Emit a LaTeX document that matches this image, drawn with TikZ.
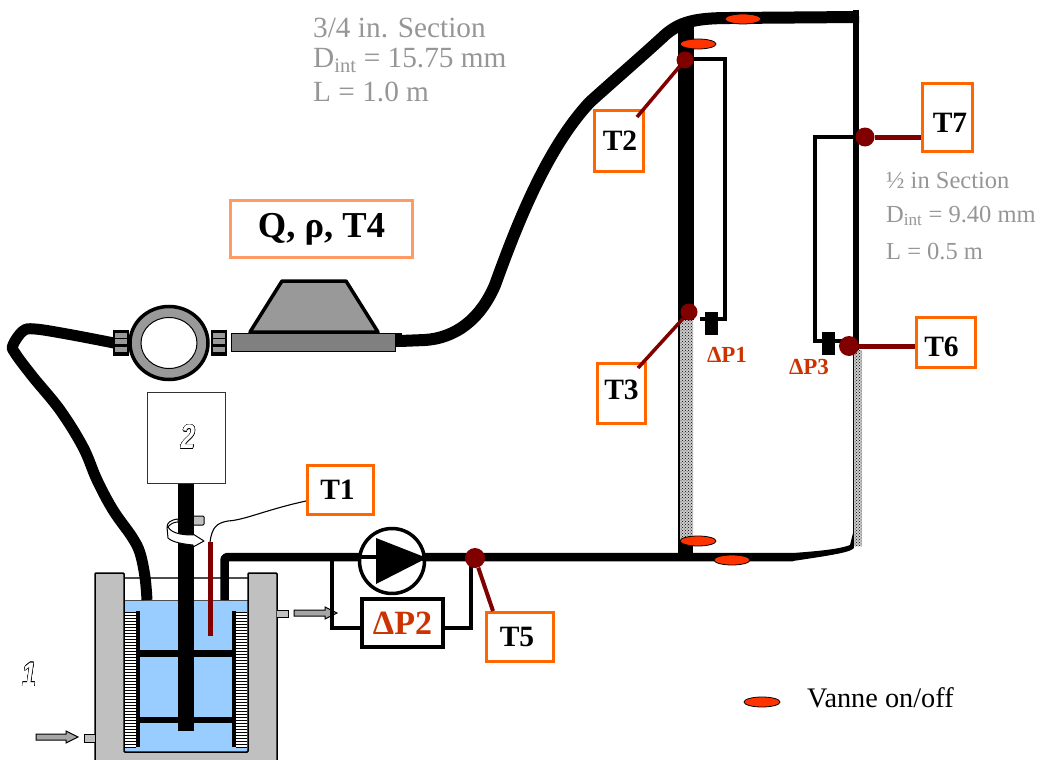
\documentclass[tikz,border=0pt]{standalone}
\usepackage{fontspec}
\usepackage{contour}
\setmainfont{Liberation Serif}
\newfontfamily\numfont{Liberation Sans}
\contourlength{0.5pt}
\usetikzlibrary{shapes.geometric,patterns,calc}
\definecolor{tagorange}{HTML}{FF6600}
\definecolor{tagpale}{HTML}{FF9966}
\definecolor{sensorred}{HTML}{800000}
\definecolor{dpred}{HTML}{CC3300}
\definecolor{valvered}{HTML}{FF3300}
\definecolor{waterblue}{HTML}{99CCFF}
\definecolor{jacketgrey}{HTML}{C0C0C0}
\definecolor{notegrey}{HTML}{969696}
\tikzset{
  tag/.style={draw=tagorange,line width=3pt,fill=white,inner sep=0pt,font=\fontsize{29.5}{31}\selectfont\bfseries},
  dot/.style={circle,fill=sensorred,inner sep=0pt},
  valve/.style={ellipse,draw=black,line width=0.8pt,fill=valvered,minimum width=36pt,minimum height=10pt,inner sep=0pt},
  note/.style={text=notegrey,anchor=west,inner sep=0pt},
  dpbox/.style={fill=black,inner sep=0pt,minimum width=13pt,minimum height=23pt},
  dplabel/.style={text=dpred,font=\fontsize{23}{25}\selectfont\bfseries},
  pipe/.style={line width=11pt,line join=round},
  impulse/.style={line width=3.5pt,line join=miter},
  lead/.style={line width=3.5pt,draw=sensorred},
  porous/.style={pattern=crosshatch dots,pattern color=black},
  greyarrow/.style={draw=black,line width=1pt,fill=gray!70},
  numeral/.style={font=\numfont\bfseries\itshape\fontsize{34}{35}\selectfont,xscale=0.75}
}
\begin{document}
\begin{tikzpicture}[x=1pt,y=-1pt]
\useasboundingbox (0,0) rectangle (1037,760);
% tank
\fill[waterblue] (124,600) rectangle (248,752);
\draw[black!70,line width=1.2pt] (124,578) -- (248,578);
\draw[black!70,line width=1pt] (124,600) -- (248,600);
\draw[line width=1.5pt,fill=jacketgrey,rounded corners=1pt] (95,760) -- (95,573) -- (124,573) -- (124,752) -- (248,752) -- (248,573) -- (277,573) -- (277,760);
\fill[white] (125,612) rectangle (136,747);
\fill[white] (236,612) rectangle (247,747);
\foreach \yy in {612,615,...,747}{
  \draw[line width=0.9pt] (125,\yy) -- (136,\yy);
  \draw[line width=0.9pt] (236,\yy) -- (247,\yy);
}
\fill (136,611) rectangle (140,747);
\fill (232,611) rectangle (236,747);
\fill (136,650) rectangle (236,657);
\fill (136,717) rectangle (236,723);
% tab and shaft
\draw[line width=1pt,fill=jacketgrey,rounded corners=1pt] (190,516) rectangle (204,525);
\fill (178,483) rectangle (194,731);
\draw[line width=1pt,fill=white,line join=round] (178,519) .. controls (170,520) and (167,523) .. (167,527) -- (168,538) .. controls (172,542) and (182,544) .. (193,545) -- (193,547) -- (204,541) -- (193,534) -- (193,535) .. controls (184,535) and (172,534) .. (168,527) .. controls (170,524) and (174,522) .. (178,522) -- cycle;
\node[draw=black!80,line width=1pt,fill=white,minimum width=78pt,minimum height=91pt,inner sep=0pt] (motor) at (186,437.5) {};
\node[numeral] (motornum) at (188,437) {\contour{black}{\textcolor{white}{2}}};
\node[numeral] (tanknum) at (29,675) {\contour{black}{\textcolor{white}{1}}};
% tabs and arrows
\draw[line width=1pt,fill=jacketgrey] (277,610) -- (288,610) -- (288,617) -- (277,617);
\draw[line width=1pt,fill=jacketgrey] (95,734) -- (84,734) -- (84,742) -- (95,742);
\draw[greyarrow] (294,610) -- (325,610) -- (325,607) -- (337,613) -- (325,619) -- (325,616) -- (294,616) -- cycle;
\draw[greyarrow] (36,734) -- (66,734) -- (66,731) -- (78,737) -- (66,743) -- (66,740) -- (36,740) -- cycle;
% return pipe to the meter
\draw[pipe,line cap=butt] plot[smooth,tension=0.6] coordinates {(147,600) (145,577) (140,553) (132,537) (113,510) (97,480) (83,447) (60,410) (33,377) (15,353) (13,345) (23,331) (35,329) (67,334) (114,343)};
% meter ring
\node[draw,line width=3.5pt,fill=gray!80,ellipse,minimum width=78pt,minimum height=73pt,inner sep=0pt] (ring) at (169,343) {};
\node[draw,line width=1pt,fill=white,ellipse,minimum width=56pt,minimum height=51pt,inner sep=0pt] (ringhole) at (169,343) {};
\foreach \xa/\xb in {113/129,211/227}{
  \fill (\xa,330) rectangle (\xb,356);
  \foreach \ya in {333,339,347}
    \fill[gray!80] (\xa+2,\ya) rectangle (\xb-2,\ya+5);
}
% flowmeter
\draw[line width=1pt,fill=black!50] (231,333) rectangle (395,351);
\draw[line width=3.5pt,fill=black!40,line join=round] (250,332) -- (282,281) -- (346,281) -- (378,332) -- cycle;
\fill (395,333) rectangle (402,347);
\node[draw=tagpale,line width=3pt,fill=white,inner sep=0pt,minimum width=182pt,minimum height=57pt,font=\fontsize{36.5}{38}\selectfont\bfseries] (flowtag) at (321.5,229) {Q, ρ, T4};
% upper pipe
\draw[pipe,line width=12pt,line cap=butt] (400,341) -- (425,340) .. controls (455,338) and (480,320) .. (495,285) .. controls (515,230) and (545,150) .. (590,102) .. controls (620,75) and (640,58) .. (665,35) .. controls (680,22) and (695,18) .. (730,18) -- (859,17);
\fill (853,10) rectangle (859,350);
% risers
\fill (678,25) rectangle (694,320);
\path[fill=black!20] (680,320) rectangle (693,541);
\path[fill=black!20] (854,350) rectangle (862,546);
\path[porous] (680,320) rectangle (693,541);
\path[porous] (854,350) rectangle (862,546);
\draw[line width=2pt] (679,320) -- (679,541);
\draw[line width=1.5pt] (853.5,350) -- (853.5,545);
\fill (678,541) rectangle (693,557);
% lower pipe
\draw[line width=8.5pt,line join=round,rounded corners=3pt] (224.5,600) -- (224.5,557) -- (793,557);
\fill (793,553) .. controls (820,551) and (840,549) .. (850,545) -- (853,533) -- (854,548) .. controls (850,552) and (840,554) .. (793,561) -- cycle;
% bypass
\draw[line width=4.5pt] (332,557) -- (332,628) -- (361,628);
\draw[line width=4.5pt] (444,628) -- (471,628) -- (471,558);
\node[draw,line width=3.5pt,fill=white,inner sep=0pt,minimum width=81pt,minimum height=48pt,text=dpred,font=\fontsize{34}{36}\selectfont\bfseries] (dptwo) at (402.5,623) {ΔP2};
% pump
\node[draw,line width=3.5pt,fill=white,circle,minimum size=65pt,inner sep=0pt] (pump) at (392,561) {};
\draw[line width=4pt] (pump.west |- 0,557) -- (378,557);
\fill (376,538) -- (376,584) -- (427,558) -- cycle;
\draw[line width=8.5pt] (422,557) -- (471,557);
% impulse lines
\draw[impulse] (690,59) -- (725,59) -- (725,319) -- (700,319);
\draw[impulse] (856,137) -- (815,137) -- (815,341) -- (850,341);
\node[dpbox] (dpone) at (711.5,323.5) {};
\node[dpbox] (dpthree) at (828.5,343.5) {};
\node[dplabel] (dponetext) at (727,355) {ΔP1};
\node[dplabel] (dpthreetext) at (809,367) {ΔP3};
% valves
\node[valve] (vone) at (743,19) {};
\node[valve] (vtwo) at (698,44) {};
\node[valve] (vthree) at (698,541) {};
\node[valve] (vfour) at (732,560) {};
\node[valve] (vlegend) at (762,702) {};
\node[anchor=west,inner sep=0pt,font=\fontsize{28.3}{30}\selectfont] (legend) at (807,698) {Vanne on/off};
% probe
\fill[sensorred] (208,542) rectangle (213,636);
% temperature tags
\node[tag,minimum width=66pt,minimum height=49pt] (Tone) at (340.5,490) {T1\hspace*{6pt}};
\node[tag,minimum width=49pt,minimum height=61pt] (Ttwo) at (619,141) {\hspace*{2pt}T2};
\node[tag,minimum width=48pt,minimum height=60pt,text height=19.5pt,text depth=7pt] (Tthree) at (621.5,393.5) {T3};
\node[tag,minimum width=67pt,minimum height=49pt] (Tfive) at (520,637) {T5\hspace*{6pt}};
\node[tag,minimum width=59pt,minimum height=50pt,text height=29pt] (Tsix) at (946,342.5) {T6\hspace*{9pt}};
\node[tag,minimum width=50pt,minimum height=68pt,text height=29.5pt] (Tseven) at (947.5,117.5) {\hspace*{5pt}T7};
\node[dot,minimum size=17pt] (dtwo) at (685,60) {};
\node[dot,minimum size=17pt] (dthree) at (689,312) {};
\node[dot,minimum size=20pt] (dfive) at (475,558) {};
\node[dot,minimum size=20pt] (dsix) at (849,346) {};
\node[dot,minimum size=19pt] (dseven) at (865,137) {};
\coordinate (ltwo) at (637,117);
\coordinate (lthree) at (638,368);
\coordinate (lfive) at (493,611);
\draw[lead] (dtwo) -- (ltwo);
\draw[lead] (dthree) -- (lthree);
\draw[lead,line width=4pt] (dfive) -- (lfive);
\draw[lead,line width=5pt] (dsix) -- (dsix -| Tsix.west);
\draw[lead,line width=5pt] (dseven) -- (dseven -| Tseven.west);
\draw[line width=1.1pt] (210,542) .. controls (212,528) and (216,523) .. (228,521) .. controls (245,520) and (265,510) .. (Tone.west |- 0,501);
% section notes
\begin{scope}[every node/.style={note,font=\fontsize{29.3}{31}\selectfont}]
\node (nonea) at (313,28) {3/4 in. Section};
\node (noneb) at (313,60) {D\textsubscript{int} = 15.75 mm};
\node (nonec) at (313,92) {L = 1.0 m};
\end{scope}
\begin{scope}[every node/.style={note,font=\fontsize{24.5}{26}\selectfont}]
\node (ntwoa) at (886,181) {½ in Section};
\node (ntwob) at (886,216) {D\textsubscript{int} = 9.40 mm};
\node (ntwoc) at (886,252) {L = 0.5 m};
\end{scope}
\end{tikzpicture}
\end{document}
